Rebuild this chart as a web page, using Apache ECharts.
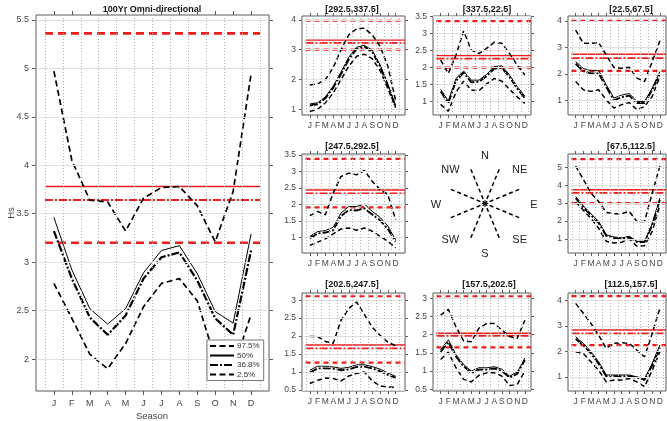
<!DOCTYPE html>
<html>
<head>
<meta charset="utf-8">
<script src="https://cdn.jsdelivr.net/npm/echarts@6/dist/echarts.min.js"></script>
<style>
  html, body { margin: 0; padding: 0; background: #fff; }
  #chart { width: 667px; height: 421px; }
</style>
</head>
<body>
<div id="chart"></div>
<script>
// Month tick labels and positions on the season axis
const months = ['J', 'F', 'M', 'A', 'M', 'J', 'J', 'A', 'S', 'O', 'N', 'D'];
const monthPos = [1, 2, 3, 4, 5, 6, 7, 8, 9, 10, 11, 12];
const pctNames = ['97.5%', '50%', '36.8%', '2.5%'];

// Omni-directional 100-year Hs by month
const omniTitle = '100Yr Omni-directional';
const omniP975 = [4.97, 4.05, 3.64, 3.62, 3.32, 3.66, 3.77, 3.78, 3.58, 3.21, 3.73, 4.94];
const omniP50  = [3.46, 2.92, 2.52, 2.36, 2.52, 2.89, 3.12, 3.17, 2.88, 2.49, 2.37, 3.29];
const omniP368 = [3.32, 2.83, 2.43, 2.25, 2.45, 2.83, 3.05, 3.10, 2.81, 2.42, 2.25, 3.12];
const omniP025 = [2.78, 2.42, 2.05, 1.90, 2.16, 2.54, 2.78, 2.83, 2.60, 2.00, 1.90, 2.46];
// annual levels: 97.5%, 50%, 36.8%, 2.5%
const omniAnnual = [5.36, 3.78, 3.64, 3.20];

// Sector [292.5,337.5]
const nwTitle = '[292.5,337.5]';
const nwP975 = [1.82, 1.85, 2.00, 2.40, 3.00, 3.50, 3.70, 3.72, 3.50, 3.12, 2.45, 1.30];
const nwP50  = [1.18, 1.22, 1.42, 1.78, 2.25, 2.75, 3.08, 3.15, 2.98, 2.50, 1.85, 1.12];
const nwP368 = [1.13, 1.17, 1.37, 1.72, 2.18, 2.68, 3.02, 3.10, 2.93, 2.44, 1.79, 1.08];
const nwP025 = [0.93, 1.00, 1.22, 1.55, 2.00, 2.45, 2.78, 2.85, 2.70, 2.30, 1.70, 1.05];
const nwAnnual = [3.97, 3.32, 3.23, 3.00];

// Sector [337.5,22.5]
const nTitle = '[337.5,22.5]';
const nP975 = [2.22, 1.83, 2.36, 3.07, 2.51, 2.41, 2.56, 2.74, 2.71, 2.41, 2.07, 1.78];
const nP50  = [1.36, 1.02, 1.68, 1.90, 1.63, 1.63, 1.80, 2.03, 2.05, 1.78, 1.44, 1.16];
const nP368 = [1.30, 0.96, 1.61, 1.85, 1.57, 1.58, 1.75, 1.97, 1.99, 1.72, 1.38, 1.10];
const nP025 = [0.92, 0.72, 1.28, 1.60, 1.34, 1.32, 1.52, 1.68, 1.60, 1.36, 1.14, 0.95];
const nAnnual = [3.36, 2.35, 2.26, 2.00];

// Sector [22.5,67.5]
const neTitle = '[22.5,67.5]';
const neP975 = [3.65, 3.15, 3.15, 3.18, 2.71, 2.24, 2.21, 2.25, 1.84, 1.71, 2.46, 3.25];
const neP50  = [2.46, 2.20, 2.12, 2.12, 1.59, 1.09, 1.20, 1.26, 0.96, 0.96, 1.46, 2.09];
const neP368 = [2.38, 2.10, 2.02, 2.02, 1.50, 1.00, 1.12, 1.18, 0.90, 0.90, 1.40, 2.00];
const neP025 = [1.71, 1.40, 1.34, 1.40, 1.02, 0.71, 0.84, 0.92, 0.65, 0.77, 1.15, 1.90];
const neAnnual = [4.00, 2.74, 2.59, 2.11];

// Sector [247.5,292.5]
const wTitle = '[247.5,292.5]';
const wP975 = [1.66, 1.79, 1.69, 2.35, 2.85, 2.95, 2.90, 3.03, 2.70, 2.45, 2.30, 1.54];
const wP50  = [1.03, 1.18, 1.21, 1.31, 1.74, 1.94, 1.94, 2.01, 1.79, 1.61, 1.35, 0.93];
const wP368 = [0.98, 1.12, 1.15, 1.22, 1.65, 1.83, 1.82, 1.88, 1.70, 1.52, 1.26, 0.88];
const wP025 = [0.76, 0.86, 0.96, 1.11, 1.26, 1.29, 1.22, 1.29, 1.19, 1.04, 0.89, 0.69];
const wAnnual = [3.38, 2.44, 2.34, 1.91];

// Sector [67.5,112.5]
const eTitle = '[67.5,112.5]';
const eP975 = [5.07, 4.33, 3.56, 3.09, 2.48, 2.41, 2.41, 2.54, 1.98, 1.98, 3.56, 5.07];
const eP50  = [3.37, 2.85, 2.41, 1.98, 1.24, 1.11, 1.06, 1.15, 0.87, 0.87, 1.85, 3.28];
const eP368 = [3.28, 2.77, 2.33, 1.90, 1.18, 1.06, 1.01, 1.10, 0.83, 0.83, 1.78, 3.18];
const eP025 = [3.07, 2.61, 2.15, 1.60, 0.87, 0.78, 0.82, 1.00, 0.60, 0.63, 1.42, 2.89];
const eAnnual = [5.45, 3.75, 3.57, 3.00];

// Sector [202.5,247.5]
const swTitle = '[202.5,247.5]';
const swP975 = [1.99, 1.99, 1.85, 1.80, 2.44, 2.77, 2.95, 2.60, 2.25, 2.02, 1.83, 1.73];
const swP50  = [1.05, 1.16, 1.16, 1.14, 1.10, 1.13, 1.20, 1.20, 1.15, 1.08, 0.97, 0.88];
const swP368 = [0.98, 1.10, 1.10, 1.09, 1.05, 1.07, 1.14, 1.15, 1.10, 1.02, 0.92, 0.84];
const swP025 = [0.68, 0.77, 0.83, 0.82, 0.75, 0.89, 0.96, 1.00, 0.75, 0.61, 0.58, 0.57];
const swAnnual = [3.11, 1.75, 1.66, 1.26];

// Sector [157.5,202.5]
const sTitle = '[157.5,202.5]';
const sP975 = [2.54, 2.70, 2.22, 1.83, 1.81, 2.18, 2.31, 2.31, 2.13, 1.95, 1.90, 2.40];
const sP50  = [1.59, 1.86, 1.45, 1.18, 1.00, 1.09, 1.09, 1.12, 1.05, 0.86, 0.97, 1.36];
const sP368 = [1.53, 1.80, 1.40, 1.13, 0.95, 1.04, 1.04, 1.07, 1.00, 0.82, 0.92, 1.30];
const sP025 = [1.32, 1.52, 1.09, 0.77, 0.70, 0.88, 0.95, 0.95, 0.86, 0.60, 0.63, 1.00];
const sAnnual = [3.06, 2.04, 1.97, 1.65];

// Sector [112.5,157.5]
const seTitle = '[112.5,157.5]';
const seP975 = [3.89, 3.50, 3.10, 2.64, 2.12, 2.32, 2.34, 2.32, 2.05, 1.79, 2.71, 3.70];
const seP50  = [2.58, 2.32, 1.99, 1.59, 1.07, 1.07, 1.07, 1.07, 1.00, 0.93, 1.53, 2.25];
const seP368 = [2.50, 2.24, 1.92, 1.52, 1.02, 1.02, 1.02, 1.02, 0.96, 0.88, 1.45, 2.15];
const seP025 = [1.99, 1.92, 1.59, 1.26, 0.80, 0.87, 0.87, 0.93, 0.80, 0.61, 1.26, 1.99];
const seAnnual = [4.18, 2.84, 2.71, 2.25];

// Compass rose: sector boundaries and point labels (bearings in degrees)
const roseBoundaries = [22.5, 67.5, 112.5, 157.5, 202.5, 247.5, 292.5, 337.5];
const roseLabels = ['N', 'NE', 'E', 'SE', 'S', 'SW', 'W', 'NW'];
const roseLabelBearings = [0, 45, 90, 135, 180, 225, 270, 315];

const FONT = '"Liberation Sans", Arial, Helvetica, sans-serif';
const RED = '#ee1d1d';
const AXIS = '#5b5b5b';
const LABEL = '#454545';

// Panel layout (pixel boxes, axis extents)
const panels = [
  { title: omniTitle, p: [omniP975, omniP50, omniP368, omniP025], annual: omniAnnual,
    left: 36, top: 15, width: 233, height: 376, xMax: 13, yMin: 1.67, yMax: 5.55, yStep: 0.5,
    redFrom: 0.5, redTo: 12.5, tx: 152, ty: 10, big: true },
  { title: nwTitle, p: [nwP975, nwP50, nwP368, nwP025], annual: nwAnnual,
    left: 302, top: 16, width: 103, height: 99, xMax: 13.2, yMin: 0.81, yMax: 4.13, yStep: 1, tx: 352, ty: 10 },
  { title: nTitle, p: [nP975, nP50, nP368, nP025], annual: nAnnual,
    left: 433, top: 16, width: 98, height: 99, xMax: 12.8, yMin: 0.61, yMax: 3.51, yStep: 0.5, tx: 487, ty: 10 },
  { title: neTitle, p: [neP975, neP50, neP368, neP025], annual: neAnnual,
    left: 568, top: 16, width: 98, height: 99, xMax: 12.8, yMin: 0.45, yMax: 4.18, yStep: 1, tx: 631, ty: 10 },
  { title: wTitle, p: [wP975, wP50, wP368, wP025], annual: wAnnual,
    left: 302, top: 154, width: 103, height: 99, xMax: 13.2, yMin: 0.53, yMax: 3.53, yStep: 0.5, tx: 352, ty: 147 },
  { title: eTitle, p: [eP975, eP50, eP368, eP025], annual: eAnnual,
    left: 568, top: 154, width: 98, height: 99, xMax: 12.8, yMin: 0.22, yMax: 5.74, yStep: 1, tx: 631, ty: 147 },
  { title: swTitle, p: [swP975, swP50, swP368, swP025], annual: swAnnual,
    left: 302, top: 293, width: 103, height: 98, xMax: 13.2, yMin: 0.47, yMax: 3.2, yStep: 0.5, tx: 352, ty: 285 },
  { title: sTitle, p: [sP975, sP50, sP368, sP025], annual: sAnnual,
    left: 433, top: 293, width: 98, height: 98, xMax: 12.8, yMin: 0.45, yMax: 3.15, yStep: 0.5, tx: 489, ty: 285 },
  { title: seTitle, p: [seP975, seP50, seP368, seP025], annual: seAnnual,
    left: 568, top: 293, width: 98, height: 98, xMax: 12.8, yMin: 0.44, yMax: 4.3, yStep: 1, tx: 631, ty: 285 }
];

// Line styles for the monthly percentile curves and the annual reference levels
function pctStyle(k, big) {
  if (k === 0 || k === 3) return { color: '#000', width: big ? 1.7 : 1.5, type: big ? [6, 3.5] : [5, 3] };
  if (k === 1) return { color: '#000', width: 1, type: 'solid' };
  return { color: '#000', width: big ? 2.2 : 1.9, type: [8, 2, 2, 2] };
}
function annualStyle(k, big) {
  if (k === 0 || k === 3) return { color: RED, width: big ? 2.6 : 2.2, type: big ? [8, 5] : [5, 4] };
  if (k === 1) return { color: RED, width: 1.4, type: 'solid' };
  return { color: RED, width: big ? 2 : 1.7, type: [8, 2, 2, 2] };
}

function stepTicks(min, max, step) {
  const out = [];
  for (let k = Math.ceil(min / step - 1e-9); k * step <= max + 1e-9; k++) out.push(+(k * step).toFixed(6));
  return out;
}

const grids = [], xAxes = [], yAxes = [], series = [], graphic = [];

panels.forEach((pn, i) => {
  const big = !!pn.big;
  const tickLen = big ? 4 : 3;
  const fs = big ? 9 : 8.5;
  grids.push({
    left: pn.left, top: pn.top, width: pn.width, height: pn.height,
    show: true, borderColor: AXIS, borderWidth: 1, backgroundColor: 'rgba(0,0,0,0)',
    containLabel: false, outerBoundsMode: 'none'
  });
  const yt = stepTicks(pn.yMin, pn.yMax, pn.yStep);
  const xBase = {
    type: 'value', gridIndex: i, min: 0, max: pn.xMax,
    axisLine: { show: false, onZero: false }, splitLine: { show: false },
    axisTick: { show: true, length: tickLen, customValues: monthPos, lineStyle: { color: AXIS } }
  };
  xAxes.push(Object.assign({}, xBase, {
    position: 'bottom',
    axisLabel: { show: true, customValues: monthPos, formatter: v => months[Math.round(v) - 1] || '',
      fontSize: fs, color: LABEL, fontFamily: FONT, margin: big ? 8 : 6 }
  }));
  xAxes.push(Object.assign({}, xBase, { position: 'top', axisLabel: { show: false } }));
  const yBase = {
    type: 'value', gridIndex: i, min: pn.yMin, max: pn.yMax,
    axisLine: { show: false, onZero: false }, splitLine: { show: false },
    axisTick: { show: true, length: tickLen, customValues: yt, lineStyle: { color: AXIS } }
  };
  yAxes.push(Object.assign({}, yBase, {
    position: 'left',
    axisLabel: { show: true, customValues: yt, formatter: v => String(+(+v).toFixed(2)),
      fontSize: fs, color: LABEL, fontFamily: FONT, margin: big ? 7 : 6 }
  }));
  yAxes.push(Object.assign({}, yBase, { position: 'right', axisLabel: { show: false } }));

  const xi = 2 * i, yi = 2 * i;
  // background grid: light horizontal lines at y ticks, dotted verticals between months
  const halfX = [];
  for (let h = 0.5; h < pn.xMax; h += 1) halfX.push(h);
  series.push({
    type: 'line', xAxisIndex: xi, yAxisIndex: yi, data: [], silent: true, z: 1,
    markLine: {
      silent: true, symbol: ['none', 'none'], label: { show: false }, animation: false,
      emphasis: { disabled: true },
      data: yt.filter(v => v > pn.yMin + 1e-6 && v < pn.yMax - 1e-6)
              .map(v => ({ yAxis: v, lineStyle: { color: '#e2e2e2', width: 1, type: 'solid' } }))
        .concat(halfX.map(v => ({ xAxis: v, lineStyle: { color: '#b0b0b0', width: 1, type: [1, 2] } })))
    }
  });
  // annual reference levels
  const rFrom = big ? pn.redFrom : 0.45;
  const rTo = big ? pn.redTo : pn.xMax;
  pn.annual.forEach((v, k) => {
    series.push({
      name: 'annual ' + pctNames[k], type: 'line', xAxisIndex: xi, yAxisIndex: yi,
      data: [[rFrom, v], [rTo, v]], symbol: 'none', silent: true, z: 2,
      itemStyle: { color: RED },
      lineStyle: annualStyle(k, big), emphasis: { disabled: true }
    });
  });
  // monthly percentile curves
  pn.p.forEach((arr, k) => {
    series.push({
      name: pctNames[k], type: 'line', xAxisIndex: xi, yAxisIndex: yi,
      data: arr.map((v, m) => [monthPos[m], v]), symbol: 'none', silent: true, z: 3,
      itemStyle: { color: '#000' },
      lineStyle: pctStyle(k, big), emphasis: { disabled: true }
    });
  });
  graphic.push({
    type: 'text', x: pn.tx, y: pn.ty, silent: true,
    style: { text: pn.title, fill: '#111', font: 'bold 9px ' + FONT, textAlign: 'center', textVerticalAlign: 'middle' }
  });
});

// axis names of the omni-directional panel
graphic.push({
  type: 'text', x: 152, y: 416, silent: true,
  style: { text: 'Season', fill: LABEL, font: '9.5px ' + FONT, textAlign: 'center', textVerticalAlign: 'middle' }
});
graphic.push({
  type: 'text', x: 11, y: 213, rotation: Math.PI / 2, silent: true,
  style: { text: 'Hs', fill: LABEL, font: '9.5px ' + FONT, textAlign: 'center', textVerticalAlign: 'middle' }
});

// compass rose
const cx = 485, cy = 203.5;
const rad = d => d * Math.PI / 180;
roseBoundaries.forEach(b => {
  graphic.push({
    type: 'line', silent: true,
    shape: { x1: cx + 5 * Math.sin(rad(b)), y1: cy - 5 * Math.cos(rad(b)),
             x2: cx + 38 * Math.sin(rad(b)), y2: cy - 38 * Math.cos(rad(b)) },
    style: { stroke: '#000', lineWidth: 1.5, lineDash: [4, 3] }
  });
});
[0, 45, 90, 135].forEach(a => {
  graphic.push({
    type: 'line', silent: true,
    shape: { x1: cx - 3.2 * Math.sin(rad(a)), y1: cy + 3.2 * Math.cos(rad(a)),
             x2: cx + 3.2 * Math.sin(rad(a)), y2: cy - 3.2 * Math.cos(rad(a)) },
    style: { stroke: '#000', lineWidth: 1.2 }
  });
});
roseLabels.forEach((t, k) => {
  const b = roseLabelBearings[k];
  graphic.push({
    type: 'text', silent: true,
    x: cx + 49 * Math.sin(rad(b)), y: cy + 1.5 - 49 * Math.cos(rad(b)),
    style: { text: t, fill: '#222', font: '11px ' + FONT, textAlign: 'center', textVerticalAlign: 'middle' }
  });
});

const chart = echarts.init(document.getElementById('chart'), null, { renderer: 'canvas' });
chart.setOption({
  animation: false,
  backgroundColor: '#fff',
  color: ['#000'],
  grid: grids,
  xAxis: xAxes,
  yAxis: yAxes,
  legend: {
    data: pctNames, left: 207, top: 340, orient: 'vertical',
    itemWidth: 24, itemHeight: 8, itemGap: 1.5, padding: [2, 4, 2, 2],
    borderColor: '#777', borderWidth: 1, borderRadius: 0, backgroundColor: '#fff',
    selectedMode: false, z: 10,
    itemStyle: { opacity: 0 },
    textStyle: { fontSize: 8, color: '#333', fontFamily: FONT, padding: [0, 0, 0, -2] }
  },
  series: series,
  graphic: graphic
});
</script>
</body>
</html>
